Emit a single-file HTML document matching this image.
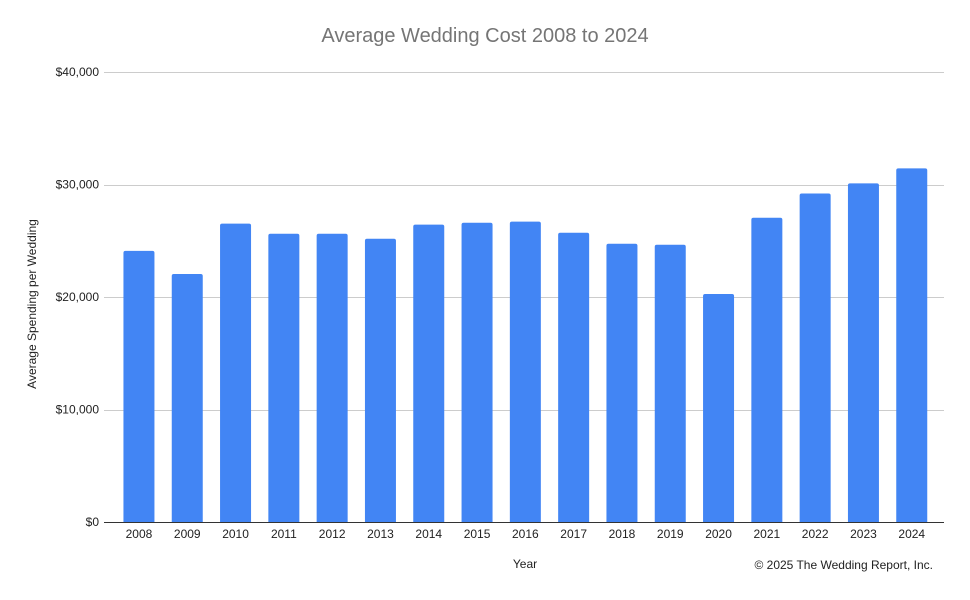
<!DOCTYPE html>
<html><head><meta charset="utf-8"><style>
body{margin:0;background:#fff;font-family:"Liberation Sans",Arial,sans-serif}
svg text{font-family:"Liberation Sans",Arial,sans-serif}
</style></head><body>
<svg id="chart" width="970" height="595" xmlns="http://www.w3.org/2000/svg">
<rect width="970" height="595" fill="#fff"/>
<text x="485" y="42" text-anchor="middle" font-size="20" fill="#757575">Average Wedding Cost 2008 to 2024</text>
<g id="grid"></g><g id="bars"></g><g id="xl"></g>
<text transform="translate(36,304) rotate(-90)" text-anchor="middle" font-size="12" fill="#222">Average Spending per Wedding</text>
<text x="525" y="568" text-anchor="middle" font-size="12" fill="#222">Year</text>
<text x="933" y="569" text-anchor="end" font-size="12" fill="#222">© 2025 The Wedding Report, Inc.</text>
</svg>
<script>
const categories=["2008","2009","2010","2011","2012","2013","2014","2015","2016","2017","2018","2019","2020","2021","2022","2023","2024"];
const values=[24100,22050,26520,25620,25620,25180,26430,26600,26700,25710,24730,24640,20270,27050,29200,30100,31430];
const yTicks=[0,10000,20000,30000,40000];
const yTickLabels=["$0","$10,000","$20,000","$30,000","$40,000"];
const NS="http://www.w3.org/2000/svg";
const y0=522,yTop=72,yMax=40000;
function yScale(v){return y0-(v/yMax)*(y0-yTop);}
const left=114.8,band=48.3;
function xCenter(i){return left+band*(i+0.5);}
const grid=document.getElementById('grid'),bars=document.getElementById('bars'),xl=document.getElementById('xl');
yTicks.forEach((t,i)=>{
 const l=document.createElementNS(NS,'line');
 
 
 const y=Math.round(yScale(t))+0.5;
 l.setAttribute('x1',104);l.setAttribute('x2',944);l.setAttribute('y1',y);l.setAttribute('y2',y);
 l.setAttribute('stroke',t===0?'#333':'#ccc');l.setAttribute('stroke-width',1);
 grid.appendChild(l);
 const tx=document.createElementNS(NS,'text');
 
 
 tx.setAttribute('x',99);tx.setAttribute('y',yScale(t)+4);tx.setAttribute('text-anchor','end');
 tx.setAttribute('font-size','12');tx.setAttribute('fill','#222');tx.textContent=yTickLabels[i];
 grid.appendChild(tx);
});
categories.forEach((c,i)=>{
 const w=31,yt=yScale(values[i]);
 const p=document.createElementNS(NS,'path');
 
 
 const x=xCenter(i)-w/2,r=2;
 p.setAttribute('d',`M${x},${y0} V${yt+r} Q${x},${yt} ${x+r},${yt} H${x+w-r} Q${x+w},${yt} ${x+w},${yt+r} V${y0} Z`);
 p.setAttribute('fill','#4285f4');
 bars.appendChild(p);
 const tx=document.createElementNS(NS,'text');
 
 
 tx.setAttribute('x',xCenter(i));tx.setAttribute('y',538);tx.setAttribute('text-anchor','middle');
 tx.setAttribute('font-size','12');tx.setAttribute('fill','#222');tx.textContent=c;
 xl.appendChild(tx);
});
</script>
</body></html>
